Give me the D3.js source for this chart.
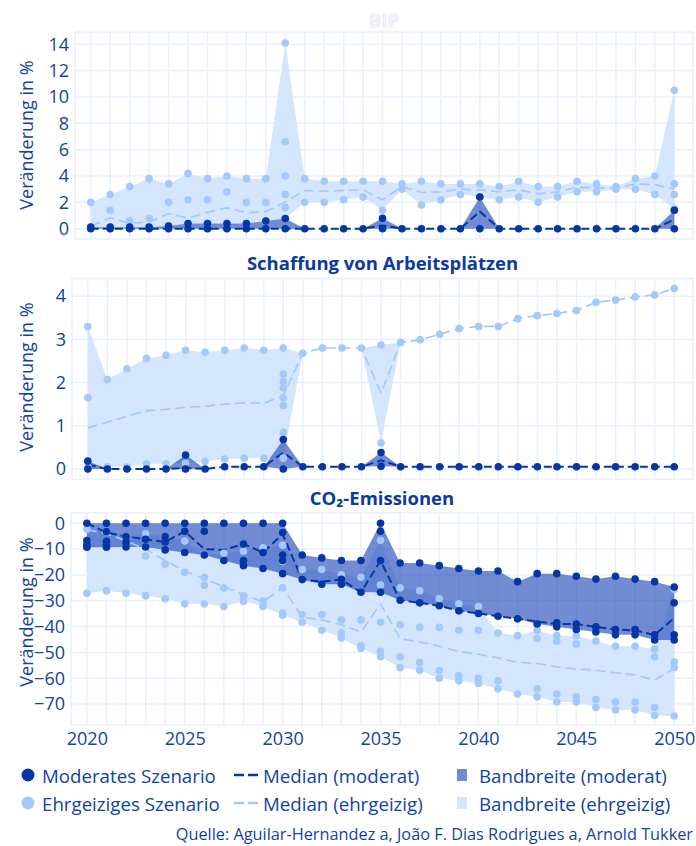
<!DOCTYPE html>
<html><head><meta charset="utf-8">
<script src="https://cdn.jsdelivr.net/npm/d3@7"></script>
<style>body{margin:0;background:#fff}svg{display:block}</style>
</head><body><svg id="c" width="696" height="846"></svg>
<script>
const years = [2020,2021,2022,2023,2024,2025,2026,2027,2028,2029,2030,2031,2032,2033,2034,2035,2036,2037,2038,2039,2040,2041,2042,2043,2044,2045,2046,2047,2048,2049,2050];
const xTicks = [2020,2025,2030,2035,2040,2045,2050];

// ---- BIP ----
const bipTicks = [0,2,4,6,8,10,12,14];
const bipModPts = [[0,0.12],[0,0.12],[0,0.12],[0,0.12],[0,0.2],[0,0.4],[0,0.4],[0,0.4],[0,0.4],[0,0.58],[0,0.78],
 [0],[0],[0],[0],[0,0.8],[0],[0],[0],[0],[0,2.4],[0],[0],[0],[0],[0],[0],[0],[0],[0],[0,1.4]];
const bipAmbPts = [[2.0,0.12],[2.6,1.4,0.12],[3.2,0.6,0.12],[3.8,0.8,0.12],[3.4,2.0,0.2],[4.2,2.2,0.4],[3.8,2.2,0.4],[4.0,2.8,0.4],[3.8,2.0,0.4],[3.8,2.0,0.58],
 [14.1,6.6,4.0,2.6,1.6,0.78],[3.8,2.0],[3.6,2.0],[3.6,2.2],[3.6,2.4],[3.6,1.4],[3.4,3.0],[3.6,1.8],[3.4,2.2],[3.4,2.6],[3.4,2.4],
 [3.2,2.2],[3.6,2.4],[3.2,2.0],[3.2,2.4],[3.6,2.8],[3.4,2.8],[3.2,3.0],[3.8,3.0],[4.0,2.6],[10.5,3.4,2.6,1.5]];
const bipModMed = [0,0,0,0,0,0,0,0,0,0,0,0,0,0,0,0.25,0,0,0,0,1.3,0,0,0,0,0,0,0,0,0,0.7];
const bipAmbMed = [0.2,0.82,0.42,0.5,1.15,0.8,1.25,1.58,1.22,1.3,2.02,2.9,2.85,2.9,2.95,2.2,3.2,2.75,2.8,3.0,2.95,2.8,2.95,2.65,2.8,3.15,3.1,3.1,3.4,3.35,3.0];

// ---- Schaffung von Arbeitsplätzen ----
const jobTicks = [0,1,2,3,4];
const jobModPts = [[0.18,0],[0],[0],[0],[0],[0.32,0],[0],[0.05],[0.05],[0.05],[0.68,0],
 [0.05],[0.05],[0.05],[0.05],[0.38,0.06],[0.05],[0.05],[0.05],[0.05],[0.05],[0.05],[0.05],[0.05],[0.05],[0.05],[0.05],[0.05],[0.05],[0.05],[0.05]];
const jobAmbPts = [[3.3,1.65,0.05],[2.07,0.05],[2.32,0.05],[2.56,0.12],[2.63,0.12],[2.75,0.13],[2.7,0.17],[2.75,0.23],[2.8,0.25],[2.75,0.25],
 [2.8,2.2,2.02,1.88,1.65,1.47,0.85,0.25],[2.68],[2.8],[2.8],[2.8],[2.87,0.6],[2.93],[2.99],[3.12],[3.25],[3.3],
 [3.3],[3.48],[3.55],[3.6],[3.67],[3.86],[3.91],[3.98],[4.03],[4.18]];
const jobModMed = [0.1,0,0,0,0,0.02,0,0.05,0.05,0.05,0.38,0.05,0.05,0.05,0.05,0.2,0.05,0.05,0.05,0.05,0.05,0.05,0.05,0.05,0.05,0.05,0.05,0.05,0.05,0.05,0.05];
const jobAmbMed = [0.95,1.08,1.22,1.35,1.38,1.43,1.45,1.5,1.53,1.52,1.7,2.68,2.8,2.8,2.8,1.75,2.93,2.99,3.12,3.25,3.3,3.3,3.48,3.55,3.6,3.67,3.86,3.91,3.98,4.03,4.18];

// ---- CO2-Emissionen ----
const co2Ticks = [0,-10,-20,-30,-40,-50,-60,-70];
const co2ModPts = [[0,-6.7,-8.4,-9.3],[0,-3.2,-7,-8.5,-9.3],[0,-5.1,-7.2,-9.2],[0,-6.2,-9.2],[0,-5.1,-7.2,-10.3],[0,-3.1,-11.3],[0,-3.1,-12.3],[0,-14.4],[0,-8.0,-14.4,-16.4],[0,-11.3,-17.5],
 [0,-3.6,-12.3,-14.4,-19.5],[-12.3,-21.8],[-13.4,-23.6],[-14.4,-21.7,-23.6],[-14.4,-26.7],[0,-3.1,-14.4,-26.7],[-15.4,-29.8],[-15.4,-30.8],[-16.4,-31.9],[-17.5,-33.9],[-18.5,-34.9],
 [-18.5,-36.0],[-22.6,-37.0],[-19.5,-39.0],[-19.5,-38.5,-40.1],[-20.5,-39.0,-41.1],[-21.6,-40.1,-42.1],[-20.5,-41.1,-43.2],[-21.6,-41.1,-43.2],[-22.6,-43.2,-45.2],[-24.7,-30.8,-43.2,-45.2]];
const co2AmbPts = [[-2.3,-27.1],[-3.2,-26.1],[-5.1,-27.1],[-4.1,-12.7,-28.1],[-5.1,-15.8,-29.2],[-6.9,-19.0,-31.2],[-12.3,-20.9,-24.0,-31.2],[-11.6,-25.0,-32.2],[-10.8,-28.1,-30.2],[-9.5,-30.2,-32.2],
 [-8.5,-14.8,-25.0,-34.8,-35.6],[-17.9,-35.3,-38.3],[-17.9,-35.3,-41.4],[-19.9,-37.4,-42.4,-44.4],[-20.9,-37.4,-47.4,-48.5],[-6.6,-23.9,-38.3,-49.6,-51.7],[-25.0,-39.3,-51.7,-55.9],[-26.1,-40.3,-53.9,-56.9],[-29.2,-40.3,-57.0,-60.0],[-31.2,-41.4,-59.0,-61.0],[-32.2,-41.4,-60.0,-62.0],
 [-42.5,-61.0,-64.1],[-43.5,-66.1],[-41.5,-44.6,-64.1,-67.2],[-43.5,-45.7,-66.1,-69.2],[-43.5,-46.7,-67.2,-69.2],[-45.6,-68.2,-71.3],[-47.6,-69.2,-72.3],[-47.6,-69.2,-72.3],[-48.7,-51.7,-71.3,-74.4],[-25.5,-53.7,-55.8,-74.6]];
const co2ModMed = [0,-3.6,-5.1,-6.2,-7.2,-3.1,-10.0,-10.3,-8.0,-11.3,-4.2,-21.8,-22.6,-21.8,-26.7,-14.5,-29.8,-30.8,-31.9,-33.9,-34.9,-36.0,-37.0,-38.0,-39.0,-39.0,-40.1,-41.1,-41.5,-43.2,-36.7];
const co2AmbMed = [-2.5,-4.0,-6.8,-10.0,-14.5,-18.4,-21.6,-24.5,-27.6,-30.5,-24.8,-36.3,-37.4,-39.3,-42.1,-31.2,-44.7,-46.0,-47.6,-49.7,-50.7,-52.1,-53.8,-54.3,-55.6,-56.4,-56.9,-57.9,-58.7,-60.7,-56.3];

const titles = ["BIP", "Schaffung von Arbeitsplätzen", "CO\u2082-Emissionen"];
const yLabel = "Veränderung in %";
const legendLabels = [["Moderates Szenario","Median (moderat)","Bandbreite (moderat)"],["Ehrgeiziges Szenario","Median (ehrgeizig)","Bandbreite (ehrgeizig)"]];
const sourceText = "Quelle: Aguilar-Hernandez a, João F. Dias Rodrigues a, Arnold Tukker";

// ---- styling ----
const FONT = "'Open Sans', 'Noto Sans', sans-serif";
const TXT = "#1142a8", TITLE = "#0b3a9e";
const DARK = "#0636a6", LIGHT = "#a4c8fa";
const DARKBAND = "#1a46b8", DARKBAND_OP = 0.62, LIGHTBAND = "#d4e6fd";
const GRID = "#e8f0fd";
const R = 693;

const panels = [
  {title:titles[0], mod:bipModPts, amb:bipAmbPts, modMed:bipModMed, ambMed:bipAmbMed, ticks:bipTicks, dom:[-0.78,14.93], top:32, bottom:239, left:75, titleY:27, faint:true, labY:135},
  {title:titles[1], mod:jobModPts, amb:jobAmbPts, modMed:jobModMed, ambMed:jobAmbMed, ticks:jobTicks, dom:[-0.24,4.41], top:278.5, bottom:479.3, left:72, titleY:270, labY:377},
  {title:titles[2], mod:co2ModPts, amb:co2AmbPts, modMed:co2ModMed, ambMed:co2AmbMed, ticks:co2Ticks, dom:[-78.1,4.1], top:512.7, bottom:725, left:71, titleY:505, labY:612, xaxis:true}
];

const svg = d3.select("#c");
const fmt = d => d < 0 ? "\u2212" + Math.abs(d) : String(d);

panels.forEach(p => {
  const g = svg.append("g");
  const x = d3.scaleLinear().domain([2019.19, 2050.96]).range([p.left, R]);
  const y = d3.scaleLinear().domain(p.dom).range([p.bottom, p.top]);

  // grid
  g.append("g").selectAll("line").data(years).join("line")
    .attr("x1", d => x(d)).attr("x2", d => x(d)).attr("y1", p.top).attr("y2", p.bottom)
    .attr("stroke", GRID).attr("stroke-width", 1.5);
  g.append("g").selectAll("line").data(p.ticks).join("line")
    .attr("x1", p.left).attr("x2", R).attr("y1", d => y(d)).attr("y2", d => y(d))
    .attr("stroke", GRID).attr("stroke-width", 1.5);
  g.append("rect").attr("x", p.left).attr("y", p.top).attr("width", R - p.left).attr("height", p.bottom - p.top)
    .attr("fill", "none").attr("stroke", GRID).attr("stroke-width", 1.5);

  // bands
  const area = d3.area().x((d, i) => x(years[i])).y0(d => y(d3.min(d))).y1(d => y(d3.max(d)));
  g.append("path").datum(p.amb).attr("d", area).attr("fill", LIGHTBAND);
  g.append("path").datum(p.mod).attr("d", area).attr("fill", DARKBAND).attr("fill-opacity", DARKBAND_OP);

  // medians
  const line = d3.line().x((d, i) => x(years[i])).y(d => y(d));
  g.append("path").datum(p.ambMed).attr("d", line).attr("fill", "none").attr("stroke", LIGHT)
    .attr("stroke-width", 1.7).attr("stroke-dasharray", "10,5");
  g.append("path").datum(p.modMed).attr("d", line).attr("fill", "none").attr("stroke", DARK)
    .attr("stroke-width", 2).attr("stroke-dasharray", "8,4");

  // points
  const flat = arr => arr.flatMap((vals, i) => vals.map(v => ({yr: years[i], v})));
  g.append("g").selectAll("circle").data(flat(p.amb)).join("circle")
    .attr("cx", d => x(d.yr)).attr("cy", d => y(d.v)).attr("r", 3.8).attr("fill", LIGHT);
  g.append("g").selectAll("circle").data(flat(p.mod)).join("circle")
    .attr("cx", d => x(d.yr)).attr("cy", d => y(d.v)).attr("r", 3.8).attr("fill", DARK);

  // y axis
  const ya = g.append("g").attr("transform", `translate(${p.left},0)`)
    .call(d3.axisLeft(y).tickValues(p.ticks).tickSize(0).tickPadding(6).tickFormat(fmt));
  ya.select(".domain").remove();
  ya.selectAll("text").attr("fill", TXT).style("font-family", FONT).style("font-size", "18px");

  // y label
  g.append("text").attr("transform", `translate(26,${p.labY}) rotate(-90)`)
    .attr("text-anchor", "middle").attr("dominant-baseline", "central")
    .attr("fill", TXT).style("font-family", FONT).style("font-size", "18px").text(yLabel);

  // title
  const t = g.append("text").attr("x", (p.left + R) / 2).attr("y", p.titleY).attr("text-anchor", "middle")
    .style("font-family", FONT).style("font-size", "18.5px").style("font-weight", "bold").text(p.title);
  if (p.faint) t.attr("fill", "#f1f6fe").attr("stroke", "#dfe8fb").attr("stroke-width", 0.7);
  else t.attr("fill", TITLE);

  if (p.xaxis) {
    const xa = g.append("g").attr("transform", `translate(0,${p.bottom})`)
      .call(d3.axisBottom(x).tickValues(xTicks).tickSize(0).tickFormat(d3.format("d")));
    xa.select(".domain").remove();
    xa.selectAll("text").attr("y", 20).attr("dy", null).attr("fill", TXT)
      .style("font-family", FONT).style("font-size", "18px");
  }
});

// legend
const lg = svg.append("g").style("font-family", FONT).style("font-size", "18.7px").attr("fill", TXT);
const rows = [775, 803];
const cols = [DARK, LIGHT];
rows.forEach((ry, i) => {
  lg.append("circle").attr("cx", 28).attr("cy", ry).attr("r", 6.5).attr("fill", cols[i]);
  lg.append("text").attr("x", 42).attr("y", ry).attr("dominant-baseline", "central").text(legendLabels[i][0]);
  lg.append("line").attr("x1", 234).attr("x2", 259).attr("y1", ry).attr("y2", ry)
    .attr("stroke", cols[i]).attr("stroke-width", 2.6).attr("stroke-dasharray", "10,4");
  lg.append("text").attr("x", 263).attr("y", ry).attr("dominant-baseline", "central").text(legendLabels[i][1]);
  const rc = lg.append("rect").attr("x", 457).attr("y", ry - 6).attr("width", 10).attr("height", 12);
  if (i === 0) rc.attr("fill", DARKBAND).attr("fill-opacity", DARKBAND_OP); else rc.attr("fill", LIGHTBAND);
  lg.append("text").attr("x", 479).attr("y", ry).attr("dominant-baseline", "central").text(legendLabels[i][2]);
});
svg.append("text").attr("x", 693).attr("y", 834).attr("text-anchor", "end").attr("dominant-baseline", "central")
  .attr("fill", TXT).style("font-family", FONT).style("font-size", "16.3px").text(sourceText);
</script></body></html>
